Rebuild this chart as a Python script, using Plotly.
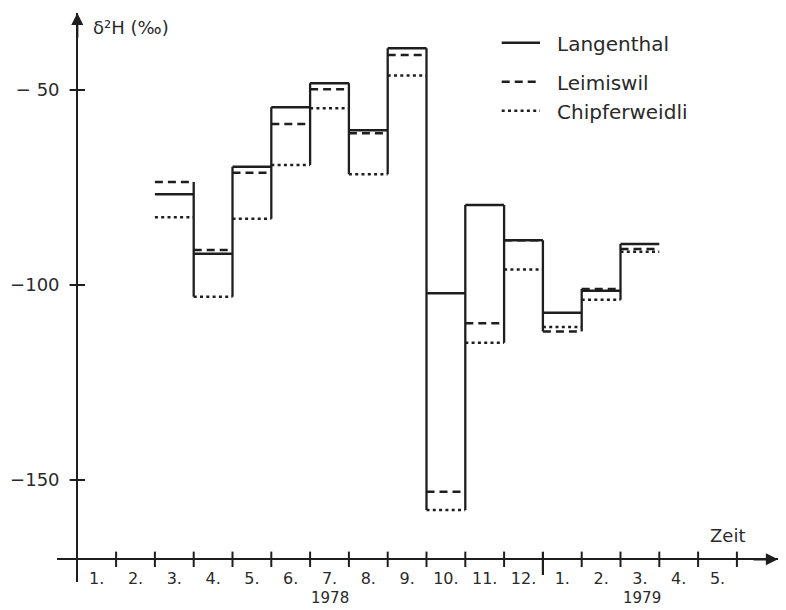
import plotly.graph_objects as go

# ---------------- data ----------------
# sequential month number (1978-1 = 1 ... 1979-5 = 17); series cover 1978-3 .. 1979-3
month_idx = [3, 4, 5, 6, 7, 8, 9, 10, 11, 12, 13, 14, 15]
langenthal = [-76.7, -92.0, -69.7, -54.4, -48.3, -60.3, -39.3, -102.1, -79.5, -88.5, -107.1, -101.5, -89.5]
leimiswil = [-73.6, -91.0, -71.2, -58.7, -49.8, -61.1, -41.0, -153.0, -109.8, -88.5, -111.9, -101.0, -90.8]
chipferweidli = [-82.6, -103.0, -83.0, -69.2, -54.7, -71.6, -46.3, -157.7, -114.8, -96.0, -110.8, -103.8, -91.5]

series_names = ["Langenthal", "Leimiswil", "Chipferweidli"]
month_labels = ["1.", "2.", "3.", "4.", "5.", "6.", "7.", "8.", "9.", "10.", "11.", "12.",
                "1.", "2.", "3.", "4.", "5."]
year_labels = ["1978", "1979"]
year_centers = [6.5, 14.55]
y_tick_vals = [-50, -100, -150]
y_tick_text = ["\u2212 50", "\u2212100", "\u2212150"]
year_boundary = 12

# ---------------- geometry ----------------
W, H = 786, 610
X0PX, DX = 77.3, 38.8      # pixel of x=0, pixels per month
Y50PX, DY = 90.0, 3.9      # pixel of y=-50, pixels per unit


def xd(px):
    return (px - X0PX) / DX


def yd(py):
    return -50 - (py - Y50PX) / DY


XAXIS_PY = 559.3
x_axis_y = yd(XAXIS_PY)
INK = "#1e1e1e"
TXT = "#2a2a2a"
FONT = "DejaVu Sans"

fig = go.Figure()

styles = [dict(dash="solid", width=2.5),
          dict(dash="8px,5px", width=2.5),
          dict(dash="3px,3.3px", width=2.5)]

all_series = [langenthal, leimiswil, chipferweidli]

# horizontal step levels
for name, vals, st in zip(series_names, all_series, styles):
    xs, ys = [], []
    for m, v in zip(month_idx, vals):
        xs += [m - 1, m, None]
        ys += [v, v, None]
    fig.add_trace(go.Scatter(x=xs, y=ys, mode="lines", name=name, showlegend=False,
                             line=dict(color=INK, width=st["width"], dash=st["dash"]),
                             hoverinfo="skip"))

# solid vertical connectors between consecutive months
vx, vy = [], []
for k in range(len(month_idx) - 1):
    vals = [s[k] for s in all_series] + [s[k + 1] for s in all_series]
    b = month_idx[k]
    vx += [b, b, None]
    vy += [max(vals), min(vals), None]
fig.add_trace(go.Scatter(x=vx, y=vy, mode="lines", showlegend=False, hoverinfo="skip",
                         line=dict(color=INK, width=2.3)))

# axis tick marks (crossing)
xt = [i for i in range(1, 18) if i != year_boundary]
fig.add_trace(go.Scatter(x=xt, y=[x_axis_y] * len(xt), mode="markers", showlegend=False,
                         hoverinfo="skip", cliponaxis=False,
                         marker=dict(symbol="line-ns", size=11, line=dict(color=INK, width=2))))
fig.add_trace(go.Scatter(x=[0] * len(y_tick_vals), y=y_tick_vals, mode="markers", showlegend=False,
                         hoverinfo="skip", cliponaxis=False,
                         marker=dict(symbol="line-ew", size=11, line=dict(color=INK, width=2))))
fig.add_trace(go.Scatter(x=[year_boundary, year_boundary], y=[yd(551.7), yd(575)], mode="lines",
                         showlegend=False, hoverinfo="skip", line=dict(color=INK, width=2.2)))

fig.update_layout(
    width=W, height=H,
    margin=dict(l=0, r=0, t=0, b=0),
    paper_bgcolor="white", plot_bgcolor="white",
    font=dict(family=FONT, color=TXT, size=16),
    showlegend=False,
    xaxis=dict(domain=[57.3 / W, 778 / W], range=[xd(57.3), xd(778)],
               anchor="free", position=(H - XAXIS_PY) / H,
               showline=True, linecolor=INK, linewidth=2.3,
               showgrid=False, zeroline=False, ticks="",
               tickvals=[i - 0.5 for i in range(1, 18)], ticktext=month_labels,
               tickfont=dict(size=16, family=FONT, color=TXT),
               ticklabelstandoff=4, automargin=False, fixedrange=True),
    yaxis=dict(domain=[(H - 582) / H, (H - 13) / H], range=[yd(582), yd(13)],
               anchor="free", position=X0PX / W,
               showline=True, linecolor=INK, linewidth=2.3,
               showgrid=False, zeroline=False, ticks="",
               tickvals=y_tick_vals, ticktext=y_tick_text,
               tickfont=dict(size=18, family=FONT, color=TXT),
               ticklabelstandoff=13, automargin=False, fixedrange=True),
)

annotations = []
# arrows
annotations.append(dict(x=0, y=yd(13), xref="x", yref="y", ax=0, ay=26, text="",
                        showarrow=True, arrowhead=2, arrowsize=1.1, arrowwidth=2.2, arrowcolor=INK))
annotations.append(dict(x=xd(778), y=x_axis_y, xref="x", yref="y", ax=-26, ay=0, text="",
                        showarrow=True, arrowhead=2, arrowsize=1.1, arrowwidth=2.2, arrowcolor=INK))
# axis titles
annotations.append(dict(x=91 / W, y=1 - 27 / H, xref="paper", yref="paper", text="δ²H (‰)",
                        showarrow=False, xanchor="left", yanchor="middle",
                        font=dict(size=18, family=FONT, color=TXT)))
annotations.append(dict(x=xd(727), y=yd(535), xref="x", yref="y", text="Zeit",
                        showarrow=False, xanchor="center", yanchor="middle",
                        font=dict(size=18, family=FONT, color=TXT)))
# years
for lab, xc in zip(year_labels, year_centers):
    annotations.append(dict(x=xc, y=1 - 598 / H, xref="x", yref="paper", text=lab,
                            showarrow=False, xanchor="center", yanchor="middle",
                            font=dict(size=15, family=FONT, color=TXT)))

# manual legend
shapes = []
leg_y = [42.7, 81.7, 110.7]
for name, st, py in zip(series_names, styles, leg_y):
    shapes.append(dict(type="line", xref="paper", yref="paper",
                       x0=501.7 / W, x1=540 / W, y0=1 - py / H, y1=1 - py / H,
                       line=dict(color=INK, width=st["width"], dash=st["dash"])))
    annotations.append(dict(x=555 / W, y=1 - (py + 1) / H, xref="paper", yref="paper", text=name,
                            showarrow=False, xanchor="left", yanchor="middle",
                            font=dict(size=20, family=FONT, color=TXT)))

fig.update_layout(annotations=annotations, shapes=shapes)
fig.write_html("out.html")
